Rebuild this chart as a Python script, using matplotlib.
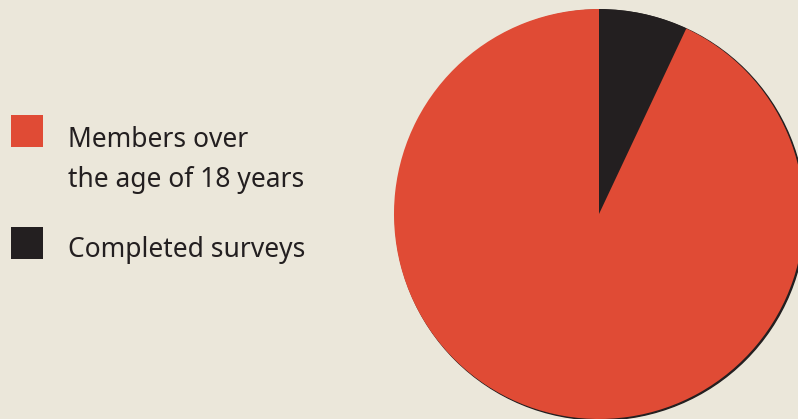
import matplotlib.pyplot as plt
from matplotlib.patches import Circle, Rectangle

# Data
labels = ["Completed surveys", "Members over\nthe age of 18 years"]
values = [7, 93]
colors = ["#231F20", "#E04B35"]

BG = "#EBE7DA"
TEXT = "#231F20"

plt.rcParams["font.family"] = ["Noto Sans", "DejaVu Sans"]

fig = plt.figure(figsize=(7.98, 4.19), dpi=100)
fig.patch.set_facecolor(BG)
ax = fig.add_axes([0, 0, 1, 1])

# Pie with a thin dark shadow on the right
cx, cy, r = 599, 205, 205
ax.add_patch(Circle((cx + 1.4, cy - 1.0), r, color="#231F20", zorder=0))
ax.pie(values, colors=colors, startangle=90, counterclock=False,
       center=(cx, cy), radius=r, frame=True,
       wedgeprops=dict(linewidth=0, zorder=1))
ax.set_xlim(0, 798)
ax.set_ylim(0, 419)
ax.set_aspect("equal")
ax.axis("off")

# Legend (red first, then black)
legend_rows = [(1, 419 - 131, 419 - 147), (0, 419 - 243, 419 - 257)]
line_gap = 40
for idx, ymid, ybase in legend_rows:
    ax.add_patch(Rectangle((11, ymid - 16), 32, 32, color=colors[idx], lw=0))
    for k, line in enumerate(labels[idx].split("\n")):
        ax.text(68, ybase - k * line_gap, line, fontsize=19, color=TEXT,
                va="baseline", ha="left")

fig.savefig("out.png", dpi=100, facecolor=BG)
